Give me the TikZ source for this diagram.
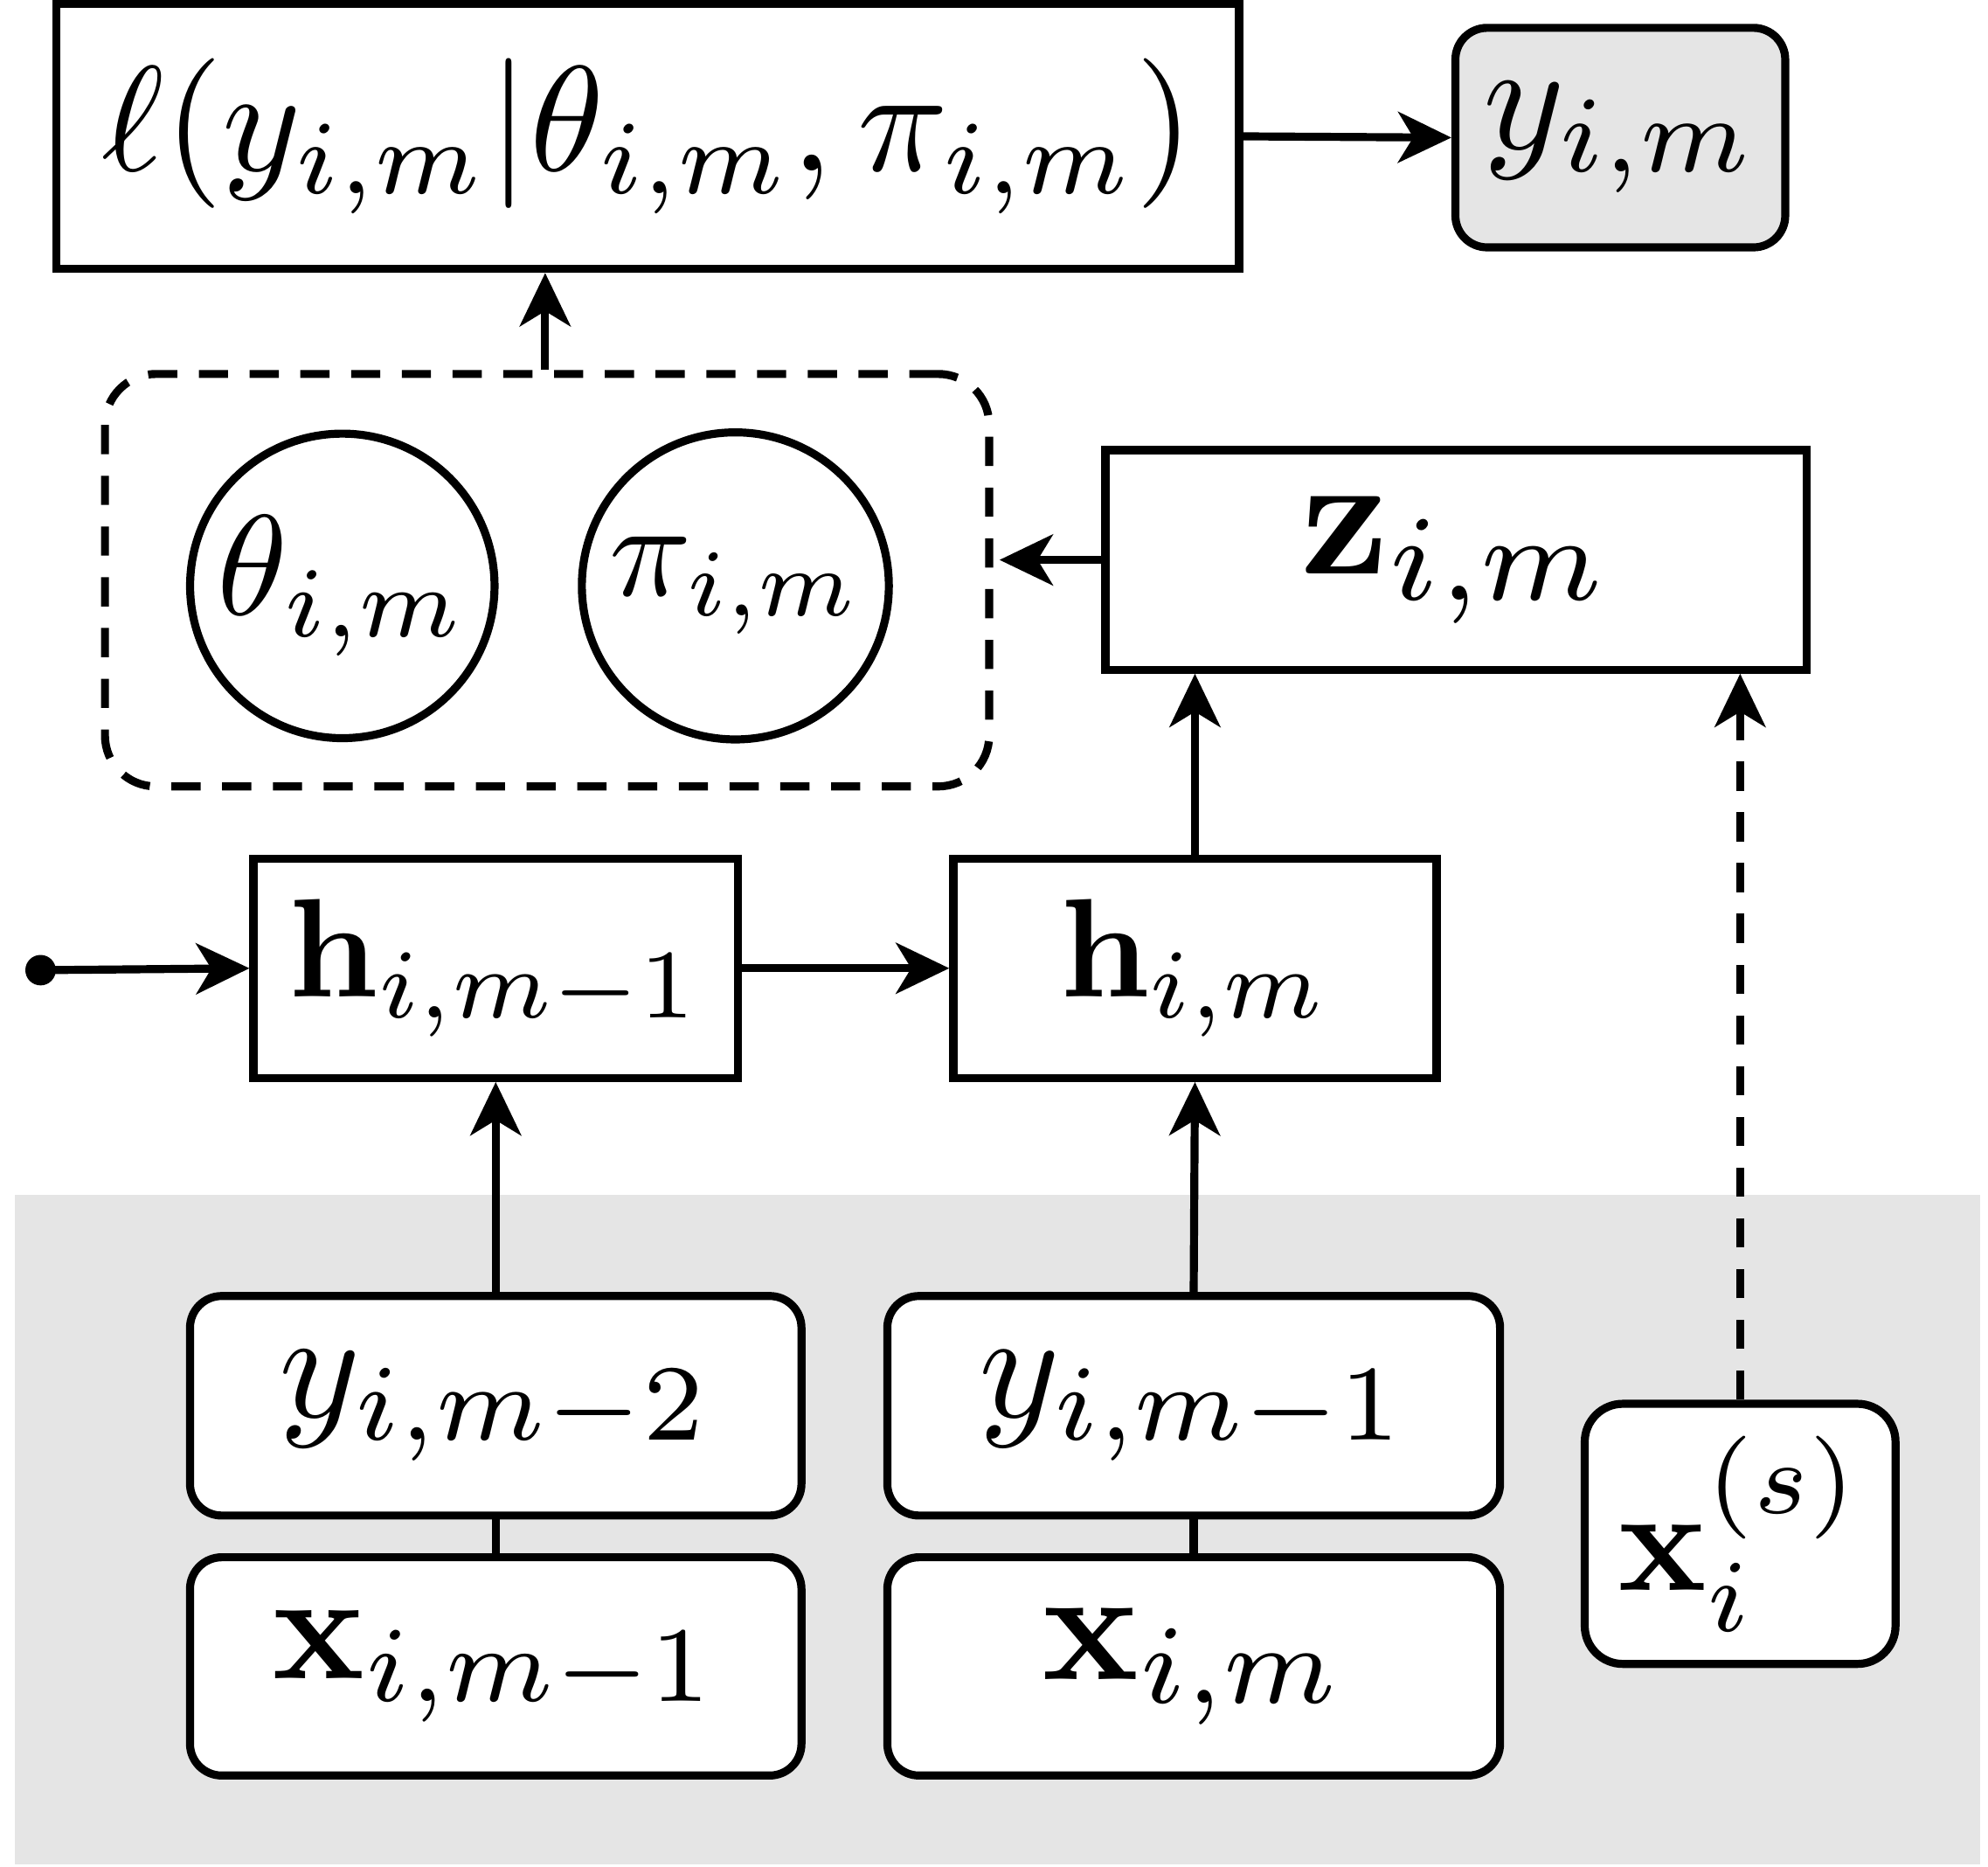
\documentclass[tikz,border=0pt]{standalone}
\usepackage{amsmath}
\usetikzlibrary{arrows.meta}
\definecolor{bggrey}{HTML}{E5E5E5}
\newcommand{\bigmath}[2][3.4]{\scalebox{#1}{$#2$}}
\begin{document}
\begin{tikzpicture}[x=0.01cm,y=-0.01cm,
  box/.style={draw, line width=1.8pt, inner sep=0pt, fill=white},
  rbox/.style={box, rounded corners=0.25cm},
  circ/.style={draw, circle, line width=1.8pt, inner sep=0pt},
  dashbox/.style={draw, line width=1.8pt, dash pattern=on 0.23cm off 0.17cm, rounded corners=0.4cm, inner sep=0pt},
  arr/.style={line width=1.8pt, -{Stealth[length=0.42cm,width=0.4cm,inset=0.12cm]}},
  link/.style={line width=1.8pt}
]
\useasboundingbox (0,0) rectangle (1568,1472);
\fill[bggrey] (12,942) rectangle (1562,1470);

\node[box, minimum width=9.32cm, minimum height=2.09cm] (top) at (511,107.5) {\bigmath[3.36]{\ell(y_{i,m}|\theta_{i,m},\pi_{i,m})}};
\node[rbox, fill=bggrey, minimum width=2.6cm, minimum height=1.73cm] (yim) at (1278,108.5) {\bigmath[3.48]{y_{i,m}}};

\node[dashbox, minimum width=6.97cm, minimum height=3.25cm] (grp) at (431.5,457.5) {};
\node[circ, minimum size=2.4cm] (theta) at (270,462) {\bigmath[3.2]{\theta_{i,m}}};
\node[circ, minimum size=2.42cm] (pi) at (580,462) {\bigmath[3.05]{\pi_{i,m}}};

\node[box, minimum width=5.53cm, minimum height=1.73cm] (z) at (1148.5,441.5) {\bigmath[3.9]{\mathbf{z}_{i,m}}};

\node[box, minimum width=3.82cm, minimum height=1.73cm] (h1) at (391,763.5) {\bigmath[3.15]{\mathbf{h}_{i,m-1}}};
\node[box, minimum width=3.81cm, minimum height=1.73cm] (h2) at (942.5,763.5) {\bigmath[3.15]{\mathbf{h}_{i,m}}};

\node[rbox, minimum width=4.82cm, minimum height=1.73cm] (y2) at (391,1108.5) {\bigmath[3.47]{y_{i,m-2}}};
\node[rbox, minimum width=4.82cm, minimum height=1.72cm] (x1) at (391,1314) {\bigmath[3.44]{\mathbf{x}_{i,m-1}}};
\node[rbox, minimum width=4.83cm, minimum height=1.73cm] (y1) at (941.5,1108.5) {\bigmath[3.45]{y_{i,m-1}}};
\node[rbox, minimum width=4.83cm, minimum height=1.72cm] (x2) at (941.5,1314) {\bigmath[3.6]{\mathbf{x}_{i,m}}};
\node[rbox, rounded corners=0.3cm, minimum width=2.45cm, minimum height=2.05cm] (xs) at (1372.5,1209.5) {\bigmath[3.3]{\mathbf{x}_i^{(s)}}};

\coordinate (start) at (32,765);
\fill (start) circle (0.12cm);

\draw[arr] (top.east) -- (yim.west);
\draw[arr] (grp.north -| 430,0) -- (top.south -| 430,0);
\draw[arr, shorten >=0.05cm] (z.west) -- (z.west -| grp.east);
\draw[arr] (start) -- (h1.west);
\draw[arr] (h1.east) -- (h2.west);
\draw[arr] (h2.north) -- (h2.north |- z.south);
\draw[arr] (y2.north) -- (h1.south);
\draw[arr] (y1.north) -- (h2.south);
\draw[link] (y2.south) -- (x1.north);
\draw[link] (y1.south) -- (x2.north);
\draw[arr, dash pattern=on 0.23cm off 0.17cm] (xs.north) -- (xs.north |- z.south);
\end{tikzpicture}
\end{document}
